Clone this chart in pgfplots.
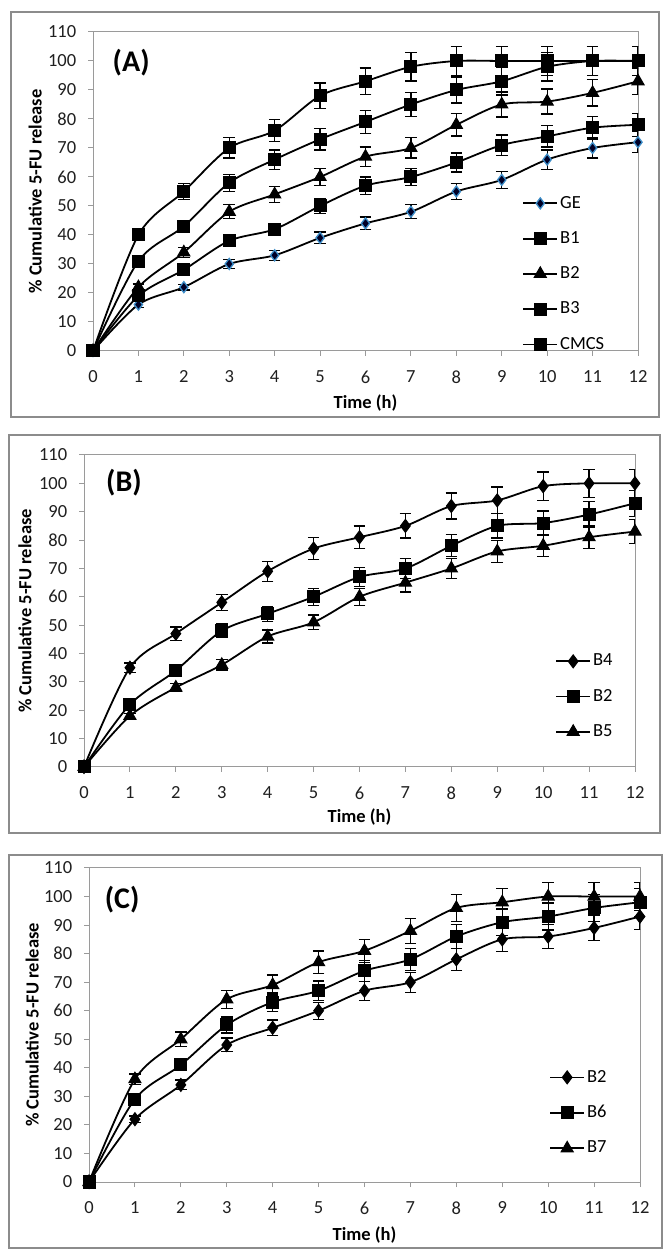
\documentclass[border=0pt]{standalone}
\usepackage{fontspec}
\setmainfont{Carlito}
\usepackage{pgfplots}
\pgfplotsset{compat=1.18}
\definecolor{axgray}{HTML}{9A9A9A}
\definecolor{frgray}{HTML}{8C8C8C}
\definecolor{geblue}{HTML}{3C8DC8}
\newcommand\tkfont{\fontsize{18.5bp}{22bp}\selectfont}
\newcommand\lbfont{\bfseries\fontsize{18.5bp}{22bp}\selectfont}

\pgfplotsset{
  relpanel/.style={
    scale only axis,
    xmin=0, xmax=12, ymin=0, ymax=110,
    xtick={0,...,12}, ytick={0,10,...,110},
    axis line style={axgray, line width=1bp},
    tick style={axgray, line width=1bp},
    major tick length=5bp, tick align=outside,
    xtick pos=bottom, ytick pos=left,
    /pgf/number format/assume math mode=true,
    xticklabel style={font=\tkfont, text=black!88, anchor=north, yshift=-8.5bp},
    yticklabel style={font=\tkfont, text=black!88, anchor=east, xshift=-5.5bp},
    xlabel={\lbfont Time (h)},
    ylabel={\lbfont \% Cumulative 5-FU release},
    xlabel style={font=\lbfont},
    ylabel style={font=\lbfont},
    legend cell align=left,
    legend image code/.code={\draw[mark repeat=2,mark phase=2] plot coordinates {(0bp,0bp)(17bp,0bp)(34bp,0bp)};},
    legend style={draw=none, fill=none, font=\tkfont, row sep=16.5bp, inner sep=0pt, nodes={inner sep=2bp}},
  },
  ser/.style={black, line width=1.8bp, smooth, tension=0.5,
    error bars/y dir=both, error bars/y explicit,
    error bars/error bar style={black, line width=1.3bp, solid},
    error bars/error mark options={rotate=90, mark size=5.8bp, line width=1.3bp, black}},
  sq/.style={mark=square*, mark size=6bp, mark options={solid, fill=black, line width=1bp}},
  tri/.style={mark=triangle*, mark size=7bp, mark options={solid, fill=black, line width=1bp}},
  dia/.style={mark=diamond*, mark size=6.5bp, mark options={solid, fill=black, line width=1bp}},
  gedia/.style={mark=diamond*, mark size=5.5bp, mark options={solid, fill=black!85!blue, draw=geblue, line width=1.3bp}},
}

\begin{document}
\tkfont
\begin{tikzpicture}
\path[use as bounding box] (0bp,0bp) rectangle (668bp,1260bp);
\draw[frgray, line width=1.3bp] (11bp,843bp) rectangle (659bp,1248bp);
\draw[frgray, line width=1.3bp] (9bp,427bp) rectangle (660bp,825bp);
\draw[frgray, line width=1.3bp] (9bp,12bp) rectangle (662bp,405bp);

% ---------------- Panel A
\begin{axis}[relpanel, at={(93bp,909bp)}, anchor=south west,
  width=545bp, height=319bp,
  xlabel style={at={(axis description cs:0.5,-0.163)}, anchor=center},
  ylabel style={at={(axis description cs:-0.106,0.5)}, anchor=center},
  legend style={at={(axis cs:9.45,54.2)}, anchor=north west}]
\addplot+[ser, gedia] table[y error index=2] {
x y e
0 0 0
1 16 1
2 22 1
3 30 1.5
4 33 1.7
5 39 2
6 44 2.2
7 48 2.4
8 55 2.8
9 59 3
10 66 3.3
11 70 3.5
12 72 3.6
};
\addlegendentry{GE}
\addplot+[ser, sq] table[y error index=2] {
x y e
0 0 0
1 19 1
2 28 1.4
3 38 2
4 42 2
5 50 2.5
6 57 3
7 60 3
8 65 3.3
9 71 3.5
10 74 3.7
11 77 3.9
12 78 4
};
\addlegendentry{B1}
\addplot+[ser, tri] table[y error index=2] {
x y e
0 0 0
1 22 1.1
2 34 1.7
3 48 2.4
4 54 2.7
5 60 3
6 67 3.3
7 70 3.5
8 78 3.9
9 85 4.3
10 86 4.3
11 89 4.5
12 93 4.6
};
\addlegendentry{B2}
\addplot+[ser, sq] table[y error index=2] {
x y e
0 0 0
1 31 1.5
2 43 2.1
3 58 2.9
4 66 3.3
5 73 3.7
6 79 4
7 85 4.2
8 90 4.5
9 93 4.7
10 98 4.9
11 100 5
12 100 5
};
\addlegendentry{B3}
\addplot+[ser, sq] table[y error index=2] {
x y e
0 0 0
1 40 2
2 55 2.7
3 70 3.5
4 76 3.8
5 88 4.4
6 93 4.6
7 98 4.9
8 100 5
9 100 5
10 100 5
11 100 5
12 100 5
};
\addlegendentry{CMCS}
\node[font=\bfseries\fontsize{30bp}{34bp}\selectfont] at (axis cs:0.84,99.3) {(A)};
\end{axis}

% ---------------- Panel B
\begin{axis}[relpanel, at={(84bp,493bp)}, anchor=south west,
  width=551bp, height=312bp,
  xlabel style={at={(axis description cs:0.5,-0.16)}, anchor=center},
  ylabel style={at={(axis description cs:-0.107,0.5)}, anchor=center},
  legend style={at={(axis cs:10.26,40.6)}, anchor=north west}]
\addplot+[ser, dia] table[y error index=2] {
x y e
0 0 0
1 35 1.7
2 47 2.4
3 58 2.9
4 69 3.5
5 77 3.9
6 81 4
7 85 4.3
8 92 4.6
9 94 4.7
10 99 5
11 100 5
12 100 5
};
\addlegendentry{B4}
\addplot+[ser, sq] table[y error index=2] {
x y e
0 0 0
1 22 1.1
2 34 1.7
3 48 2.4
4 54 2.7
5 60 3
6 67 3.3
7 70 3.5
8 78 3.9
9 85 4.3
10 86 4.3
11 89 4.5
12 93 4.6
};
\addlegendentry{B2}
\addplot+[ser, tri] table[y error index=2] {
x y e
0 0 0
1 18 0.9
2 28 1.4
3 36 1.8
4 46 2.3
5 51 2.6
6 60 3
7 65 3.3
8 70 3.5
9 76 3.8
10 78 3.9
11 81 4
12 83 4.2
};
\addlegendentry{B5}
\node[font=\bfseries\fontsize{30bp}{34bp}\selectfont] at (axis cs:0.87,100.1) {(B)};
\end{axis}

% ---------------- Panel C
\begin{axis}[relpanel, at={(89bp,78bp)}, anchor=south west,
  width=551bp, height=314bp,
  xlabel style={at={(axis description cs:0.5,-0.169)}, anchor=center},
  ylabel style={at={(axis description cs:-0.103,0.5)}, anchor=center},
  legend style={at={(axis cs:10.02,40.0)}, anchor=north west}]
\addplot+[ser, dia] table[y error index=2] {
x y e
0 0 0
1 22 1.1
2 34 1.7
3 48 2.4
4 54 2.7
5 60 3
6 67 3.3
7 70 3.5
8 78 3.9
9 85 4.3
10 86 4.3
11 89 4.5
12 93 4.6
};
\addlegendentry{B2}
\addplot+[ser, sq] table[y error index=2] {
x y e
0 0 0
1 29 1.5
2 41 2
3 55 2.8
4 63 3.2
5 67 3.4
6 74 3.7
7 78 3.9
8 86 4.3
9 91 4.6
10 93 4.7
11 96 4.8
12 98 4.9
};
\addlegendentry{B6}
\addplot+[ser, tri] table[y error index=2] {
x y e
0 0 0
1 36 1.8
2 50 2.5
3 64 3.2
4 69 3.5
5 77 3.9
6 81 4
7 88 4.4
8 96 4.8
9 98 4.9
10 100 5
11 100 5
12 100 5
};
\addlegendentry{B7}
\node[font=\bfseries\fontsize{30bp}{34bp}\selectfont] at (axis cs:0.72,98.8) {(C)};
\end{axis}
\end{tikzpicture}
\end{document}
